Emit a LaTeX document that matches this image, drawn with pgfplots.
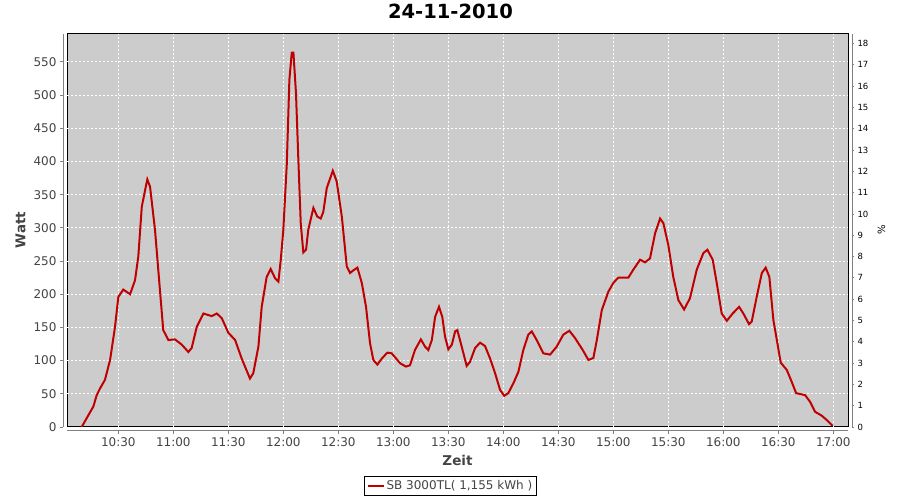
\documentclass[border=0pt]{standalone}
\usepackage{fontspec}
\setmainfont{DejaVu Sans}
\usepackage{pgfplots}
\pgfplotsset{compat=1.18}
\definecolor{plotbg}{RGB}{204,204,204}
\definecolor{txtgray}{RGB}{68,68,68}
\definecolor{axgray}{RGB}{128,128,128}
\definecolor{sbred}{RGB}{192,0,0}
\begin{document}
\begin{tikzpicture}
\path[use as bounding box] (0,0) rectangle (900pt,500pt);
% main axis, power in W over minutes after 10:00
\begin{axis}[
    at={(67pt,73pt)}, anchor=south west,
    width=781pt, height=393pt, scale only axis,
    xmin=2, xmax=428, ymin=0, ymax=592,
    axis background/.style={fill=plotbg, draw=black, line width=1pt},
    axis x line*=bottom, axis y line*=left,
    axis x line shift=4pt, axis y line shift=4pt,
    axis line style={-, draw=axgray, line width=1pt},
    xtick pos=bottom, ytick pos=left,
    tick align=outside, major tick length=3pt,
    tick style={axgray, line width=0.8pt},
    xtick={30,60,...,420},
    xticklabels={10:30,11:00,11:30,12:00,12:30,13:00,13:30,14:00,14:30,15:00,15:30,16:00,16:30,17:00},
    ytick={0,50,...,550},
    grid=major,
    major grid style={white, line width=0.8pt, dash pattern=on 2pt off 2pt},
    ticklabel style={font=\fontsize{12}{14}\selectfont, text=txtgray},
    /pgf/number format/assume math mode=true,
    title={24-11-2010},
    title style={at={(axis description cs:0.491,1.025)}, anchor=base,
        font=\fontsize{19.5}{22}\selectfont\bfseries},
    xlabel={Zeit},
    xlabel style={at={(axis description cs:0.5,-0.084)}, anchor=center,
        font=\fontsize{13.5}{16}\selectfont\bfseries, text=txtgray},
    ylabel={Watt},
    ylabel style={at={(axis description cs:-0.0595,0.501)}, anchor=center, rotate=0,
        font=\fontsize{13.5}{16}\selectfont\bfseries, text=txtgray},
    legend style={at={(axis description cs:0.491,-0.125)}, anchor=north,
        draw=black, line width=1pt, inner sep=2pt,
        font=\fontsize{12}{14}\selectfont, text=txtgray},
    legend image code/.code={\draw[#1] (0pt,0pt) -- (16pt,0pt);},
]
\addplot[sbred, line width=2pt] coordinates {
(10.0,0) (16.4,31) (18.2,48) (20,58) (22.7,71) (25.5,101) (28.2,151) (30,196)
(32.7,207) (36.4,200) (39.1,221) (40.9,257) (42.8,332) (45.8,373) (47.3,362)
(50,297) (52.7,206) (54.5,146) (57.3,131) (60.9,132) (64.6,124) (68.2,113)
(70,119) (72.8,151) (76.4,171) (80.9,167) (83.7,171) (86.4,164) (90,142)
(93.7,131) (97.3,103) (101.8,73) (103.6,81) (106.4,121) (108.2,181) (110.9,226)
(113.1,238) (115.5,224) (117.3,219) (118.6,252) (120,297) (121.9,397) (123.3,523)
(124.6,564) (125.5,564) (126.9,503) (128.2,402) (129.5,307) (130.9,263) (132.4,267)
(133.6,297) (136.4,330) (138.5,317) (140.4,314) (141.8,324) (143.7,360) (147,386)
(149.1,370) (151.9,317) (154.6,242) (156.4,232) (158.2,236) (160.4,240) (162.8,217)
(165.1,181) (167.3,126) (169.1,101) (171.3,94) (173.7,103) (176.7,112) (179.1,111)
(183.7,96) (186.9,91) (189.1,93) (191.8,116) (195,132) (197.3,121) (199.1,116)
(201,131) (202.8,166) (204.9,181) (206.7,166) (208.2,136) (210,117) (211.9,124)
(213.7,144) (214.9,146) (217.3,121) (220,92) (221.8,98) (224.6,119) (227.3,127)
(230,122) (232.8,103) (235.5,81) (238.2,56) (240.5,47) (242.7,51) (245.5,66)
(248.2,83) (250.9,116) (253.6,139) (255.5,144) (258.2,131) (261.8,111) (265.5,109)
(269.1,121) (272.7,139) (276,145) (279.1,134) (283.3,116) (286.4,101) (289.1,104)
(291,131) (293.7,176) (297.3,204) (300,217) (302.7,225) (308.2,225) (310.9,237)
(314.6,252) (317.3,248) (320,254) (322.8,292) (325.5,314) (327.3,307) (330,274)
(332.7,226) (335.5,191) (338.6,177) (341.8,194) (345.5,237) (349.1,262) (351.3,267)
(354.2,252) (356.4,217) (359.1,171) (361.9,160) (365.1,171) (368.6,181) (370.9,171)
(374,155) (375.5,159) (378.2,196) (381,232) (383.1,240) (385.1,226) (387.3,161)
(389.5,126) (391.3,97) (394.6,86) (397.3,68) (399.7,51) (404.6,48) (407.3,38)
(410,23) (413.7,17) (416.4,10.5) (419.7,1.5)
};
\addlegendentry{SB 3000TL( 1,155 kWh )}
\end{axis}
% right axis in percent
\begin{axis}[
    at={(67pt,73pt)}, anchor=south west,
    width=781pt, height=393pt, scale only axis,
    xmin=2, xmax=428, ymin=0, ymax=18.45,
    hide x axis,
    axis y line*=right, axis y line shift=4pt,
    axis line style={-, draw=axgray, line width=1pt},
    ytick pos=right, yticklabel pos=right,
    tick align=outside, major tick length=2pt,
    tick style={axgray, line width=0.8pt},
    ytick={0,1,...,18},
    yticklabel style={font=\fontsize{8.5}{10}\selectfont, text=black},
    /pgf/number format/assume math mode=true,
    ylabel={\%},
    ylabel style={at={(axis description cs:1.043,0.501)}, anchor=center, rotate=0,
        font=\fontsize{10}{12}\selectfont},
]
\end{axis}
\end{tikzpicture}
\end{document}
